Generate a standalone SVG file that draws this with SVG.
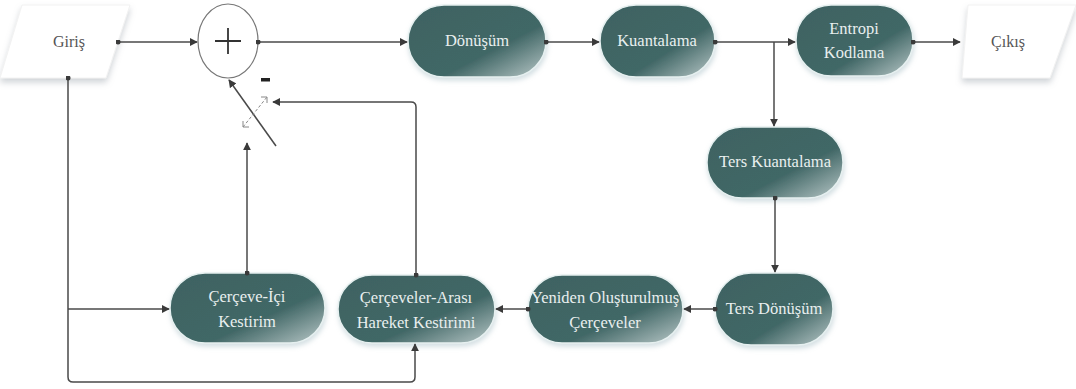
<svg xmlns="http://www.w3.org/2000/svg" width="1076" height="389" viewBox="0 0 1076 389">
  <defs>
    <linearGradient id="nodeFill" x1="0" y1="0" x2="1" y2="1">
      <stop offset="0" stop-color="#3e6362"/>
      <stop offset="0.62" stop-color="#416766"/>
      <stop offset="1" stop-color="#b9c8c8"/>
    </linearGradient>
    <filter id="glow" x="-20%" y="-20%" width="140%" height="150%">
      <feGaussianBlur in="SourceAlpha" stdDeviation="2.5"/>
      <feOffset dx="1" dy="3" result="b"/>
      <feFlood flood-color="#9fb8c0" flood-opacity="0.45"/>
      <feComposite in2="b" operator="in"/>
      <feMerge><feMergeNode/><feMergeNode in="SourceGraphic"/></feMerge>
    </filter>
    <filter id="ioShadow" x="-20%" y="-20%" width="140%" height="160%">
      <feGaussianBlur in="SourceAlpha" stdDeviation="3"/>
      <feOffset dx="0" dy="4" result="b"/>
      <feFlood flood-color="#a0a8b0" flood-opacity="0.5"/>
      <feComposite in2="b" operator="in"/>
      <feMerge><feMergeNode/><feMergeNode in="SourceGraphic"/></feMerge>
    </filter>
    <marker id="arrow" viewBox="0 0 10 10" refX="9" refY="5" markerWidth="8" markerHeight="8" markerUnits="userSpaceOnUse" orient="auto">
      <path d="M0,0 L10,5 L0,10 Z" fill="#3a3a3a"/>
    </marker>
    <marker id="dot" viewBox="0 0 10 10" refX="5" refY="5" markerWidth="5" markerHeight="5" markerUnits="userSpaceOnUse">
      <circle cx="5" cy="5" r="5" fill="#3a3a3a"/>
    </marker>
    <style>
      text { font-family: 'Liberation Serif', 'Times New Roman', serif; font-weight: normal; }
      .node rect { fill: url(#nodeFill); stroke: #e6f0f0; stroke-width: 1.5; filter: url(#glow); }
      .node text { font-size: 16.5px; fill: #e9efef; text-anchor: middle; }
      .io path { fill: #ffffff; stroke: #f2f2f2; stroke-width: 1; filter: url(#ioShadow); }
      .io text { font-size: 16px; fill: #555555; text-anchor: middle; }
      .wire { fill: none; stroke: #4a4a4a; stroke-width: 1.5; }
      .flow { marker-start: url(#dot); marker-end: url(#arrow); }
    </style>
  </defs>

  <rect width="1076" height="389" fill="#ffffff"/>

  <!-- input / output terminals -->
  <g id="giris" class="io">
    <path d="M22,5 L130,5 L106,78 L0,78 Z"/>
    <text x="69" y="47">Giriş</text>
  </g>
  <g id="cikis" class="io">
    <path d="M968,5 L1076,5 L1050,78 L962,78 Z"/>
    <text x="1008" y="47">Çıkış</text>
  </g>

  <!-- summing junction -->
  <g id="toplam">
    <ellipse cx="228" cy="41" rx="30" ry="37" fill="#ffffff" stroke="#777777" stroke-width="1.2"/>
    <path d="M215,41 H241 M228,28 V54" stroke="#333333" stroke-width="1.8" fill="none"/>
  </g>

  <!-- processing blocks -->
  <g id="donusum" class="node">
    <rect x="408" y="5" width="138" height="72" rx="36"/>
    <text x="477" y="46">Dönüşüm</text>
  </g>
  <g id="kuantalama" class="node">
    <rect x="600" y="5" width="115" height="72" rx="36"/>
    <text x="657" y="46">Kuantalama</text>
  </g>
  <g id="entropi" class="node">
    <rect x="796" y="5" width="117" height="71" rx="35"/>
    <text x="854" y="34">Entropi</text>
    <text x="854" y="58">Kodlama</text>
  </g>
  <g id="ters-kuantalama" class="node">
    <rect x="707" y="127" width="136" height="71" rx="35"/>
    <text x="775" y="167">Ters Kuantalama</text>
  </g>
  <g id="ters-donusum" class="node">
    <rect x="715" y="273" width="118" height="72" rx="36"/>
    <text x="774" y="314">Ters Dönüşüm</text>
  </g>
  <g id="yeniden" class="node">
    <rect x="528" y="275" width="155" height="68" rx="34"/>
    <text x="605" y="303">Yeniden Oluşturulmuş</text>
    <text x="605" y="328">Çerçeveler</text>
  </g>
  <g id="hareket" class="node">
    <rect x="338" y="275" width="157" height="68" rx="34"/>
    <text x="416" y="303">Çerçeveler-Arası</text>
    <text x="416" y="328">Hareket Kestirimi</text>
  </g>
  <g id="cerceve-ici" class="node">
    <rect x="170" y="273" width="155" height="70" rx="35"/>
    <text x="247" y="302">Çerçeve-İçi</text>
    <text x="247" y="327">Kestirim</text>
  </g>

  <!-- connectors -->
  <g id="connectors">
    <path class="wire flow" d="M118,42 H197"/>
    <path class="wire flow" d="M258,42 H407"/>
    <path class="wire flow" d="M546,42 H599"/>
    <path class="wire flow" d="M715,42 H795"/>
    <path class="wire" d="M774,42 V126" marker-end="url(#arrow)"/>
    <path class="wire flow" d="M913,42 H960"/>
    <path class="wire flow" d="M775,198 V272"/>
    <path class="wire flow" d="M715,309 H684"/>
    <path class="wire flow" d="M528,309 H496"/>
    <!-- input to the predictors -->
    <path class="wire" d="M68,78 V377 Q68,382 73,382 H410 Q415,382 415,377 V344" marker-start="url(#dot)" marker-end="url(#arrow)"/>
    <path class="wire" d="M68,309 H169" marker-end="url(#arrow)"/>
    <!-- predictor outputs to the switch -->
    <path class="wire flow" d="M247,273 V143"/>
    <path class="wire flow" d="M416,275 V107 Q416,102 411,102 H273"/>
    <!-- switch blade into the summing junction -->
    <path class="wire" d="M276,146 L229,80" marker-end="url(#arrow)"/>
    <path d="M243,127 L267,97" stroke="#888888" stroke-width="1" stroke-dasharray="3,2" fill="none"/>
    <path d="M243,121 V127 H249" stroke="#888888" stroke-width="1" fill="none"/>
    <path d="M261,97 H267 V103" stroke="#888888" stroke-width="1" fill="none"/>
    <rect x="261" y="78" width="9" height="3.5" fill="#222222"/>
  </g>
</svg>
